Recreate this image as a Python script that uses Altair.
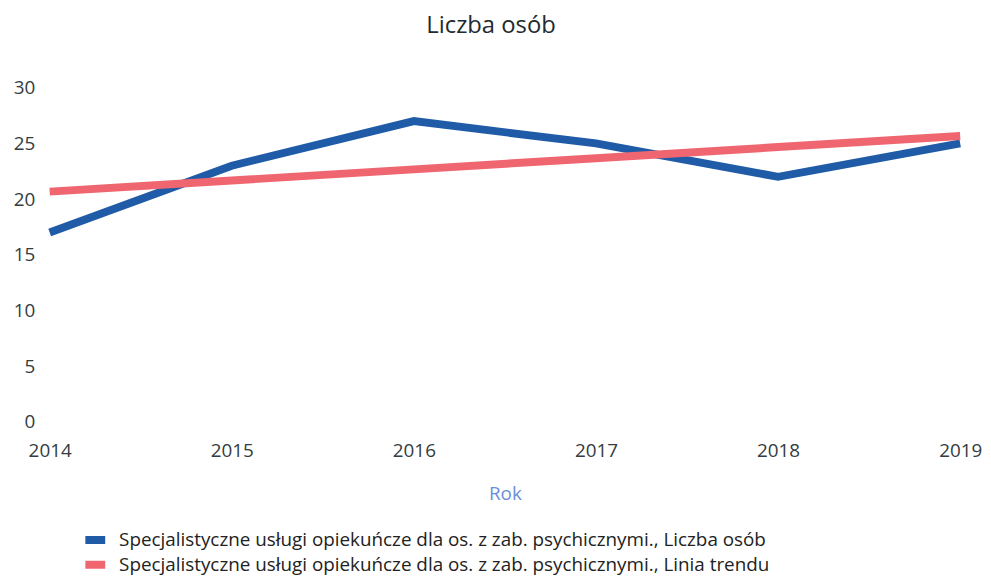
import altair as alt
import pandas as pd

years = [2014, 2015, 2016, 2017, 2018, 2019]
liczba_osob = [17, 23, 27, 25, 22, 25]
linia_trendu = [20.67, 21.67, 22.67, 23.67, 24.67, 25.67]
series_names = [
    "Specjalistyczne usługi opiekuńcze dla os. z zab. psychicznymi., Liczba osób",
    "Specjalistyczne usługi opiekuńcze dla os. z zab. psychicznymi., Linia trendu",
]
colors = ["#1f5ba6", "#ef6670"]

rows = []
for y, v in zip(years, liczba_osob):
    rows.append({"Rok": y, "value": v, "series": series_names[0]})
for y, v in zip(years, linia_trendu):
    rows.append({"Rok": y, "value": v, "series": series_names[1]})
df = pd.DataFrame(rows)

font = "Open Sans"

chart = alt.Chart(df).mark_line(strokeWidth=8).encode(
    x=alt.X("Rok:Q",
            scale=alt.Scale(domain=[2014, 2019], nice=False, zero=False),
            axis=alt.Axis(values=years, format="d", grid=False, domain=False, ticks=False,
                          labelFlush=False, labelBound=False,
                          labelFontSize=19, labelColor="#333c40", labelFont=font,
                          labelPadding=20, title="Rok", titleFont=font, titleFontSize=19,
                          titleFontWeight="normal", titleColor="#6b8fd6", titlePadding=24)),
    y=alt.Y("value:Q",
            scale=alt.Scale(domain=[0, 30], nice=False),
            axis=alt.Axis(values=[0, 5, 10, 15, 20, 25, 30], grid=False, domain=False, ticks=False,
                          labelFontSize=19, labelColor="#333c40", labelFont=font,
                          labelPadding=15, title=None)),
    color=alt.Color("series:N",
                    scale=alt.Scale(domain=series_names, range=colors),
                    legend=alt.Legend(title=None, orient="none", legendX=32, legendY=446,
                                      direction="vertical", symbolType="stroke", symbolSize=400,
                                      symbolStrokeWidth=8, labelFontSize=19, labelFont=font,
                                      labelColor="#222222", labelLimit=900, rowPadding=5,
                                      clipHeight=20, labelOffset=10)),
).properties(
    width=918,
    height=337,
    title=alt.TitleParams("Liczba osób", font=font, fontSize=24, fontWeight="normal",
                          color="#222a2e", offset=41, dx=-14),
    autosize=alt.AutoSizeParams(type="none"),
    padding={"left": 42, "top": 78, "right": 23, "bottom": 155},
).configure_view(stroke=None)

chart.save("out.html", embed_options={"renderer": "svg", "actions": False})
